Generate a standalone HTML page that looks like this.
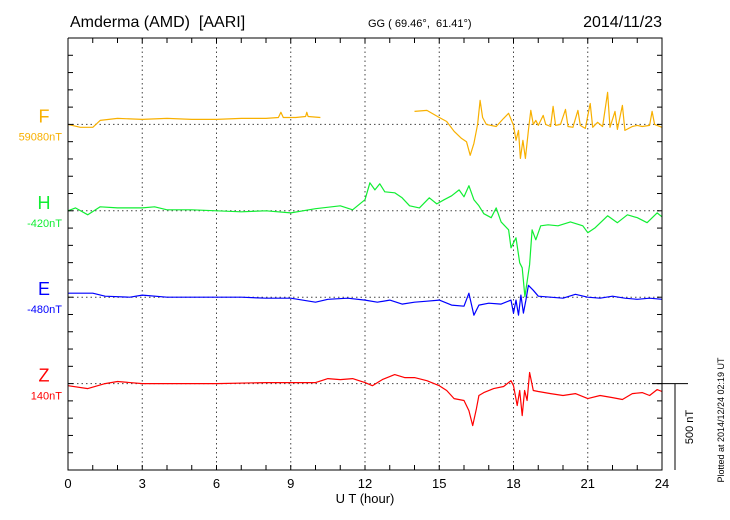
<!DOCTYPE html>
<html><head><meta charset="utf-8"><style>
body{margin:0;background:#fff;}
svg{display:block;font-family:"Liberation Sans",sans-serif;}
svg text{white-space:pre;}
</style></head><body>
<svg id="chart" width="730" height="520" viewBox="0 0 730 520" xmlns="http://www.w3.org/2000/svg" xml:space="preserve">
<text x="70" y="27" font-size="16">Amderma (AMD)  [AARI]</text>
<text x="368" y="27" font-size="11">GG ( 69.46°,  61.41°)</text>
<text x="662" y="27" font-size="16" text-anchor="end">2014/11/23</text>
<g id="grid"></g>
<g id="series"></g>
<g id="axes"></g>
<text x="365" y="503" font-size="13" text-anchor="middle">U T (hour)</text>
<text x="693" y="427" font-size="11" text-anchor="middle" transform="rotate(-90 693 427)">500 nT</text>
<text x="724" y="420" font-size="9" text-anchor="middle" transform="rotate(-90 724 420)">Plotted at 2014/12/24 02:19 UT</text>
</svg>
<script>
const xTicks = [0,3,6,9,12,15,18,21,24];
const fT = [0,0.5,1,1.3,2,3,4,5,6,7,8,8.5,8.6,8.7,9.2,9.6,9.65,9.7,10.2,null,14.0,14.5,15,15.3,15.6,15.9,16.1,16.25,16.4,16.55,16.65,16.75,16.9,17.3,17.6,17.8,18,18.1,18.2,18.28,18.38,18.48,18.6,18.7,18.8,18.9,19,19.2,19.3,19.5,19.6,19.7,19.9,20.1,20.2,20.4,20.6,20.7,20.9,21.1,21.2,21.4,21.6,21.8,21.9,22.1,22.2,22.4,22.5,22.8,23.0,23.2,23.5,23.6,23.7,24];
const fV = [0,-17,-17,23,35,29,35,29,29,35,35,40,70,40,40,46,70,46,40,null,75,81,40,17,-40,-81,-100,-179,-110,0,139,40,0,-12,35,64,-6,-92,-35,-197,-92,-197,-35,81,0,23,-6,52,0,-12,104,-6,0,87,-12,-17,81,-6,-23,121,-17,12,-12,185,-17,75,-29,110,-35,-12,-6,-12,-6,75,0,-17];
const hT = [0,0.3,0.8,1.3,2,3,3.5,4,5,6,7,8,9,10,11,11.5,12,12.2,12.4,12.6,12.8,13.2,13.5,13.8,14.2,14.6,14.9,15.2,15.5,15.8,16.0,16.2,16.4,16.6,16.8,17.1,17.3,17.5,17.8,17.9,18.1,18.25,18.35,18.46,18.65,18.75,18.9,19.1,19.4,19.8,20.3,20.8,21.0,21.3,21.8,22.2,22.6,23.0,23.4,23.8,24];
const hV = [0,17,-23,23,17,17,23,6,6,0,-6,0,-12,12,29,6,64,162,121,156,110,104,75,29,17,75,40,64,87,121,81,145,64,29,-17,-40,17,-64,-110,-214,-156,-301,-330,-497,-312,-110,-168,-87,-81,-87,-64,-87,-127,-98,-29,-69,-23,-40,-69,-12,-35];
const eT = [0,1,1.5,2.5,3,4,5,6,7,8,9,10,10.5,11.3,12,12.5,13,13.5,14,14.5,15,15.5,16,16.2,16.4,16.6,17,17.5,17.9,18.0,18.1,18.2,18.3,18.4,18.5,18.6,18.8,19,19.5,20,20.5,21,21.5,22,22.5,23,23.5,24];
const eV = [23,23,6,0,12,0,0,0,0,-6,-6,-29,-12,-6,-17,-29,-17,-40,-29,-23,-17,-46,-52,23,-104,-46,-35,-40,-17,-92,-17,-104,12,-92,-17,69,40,6,0,-6,17,0,-6,6,-6,-12,-6,-12];
const zT = [0,0.8,1.5,2,3,6,8,10,10.5,11,11.5,12,12.3,12.7,13.2,13.6,14,14.5,15,15.3,15.6,16.0,16.2,16.35,16.5,16.6,16.8,17.2,17.6,17.9,18.0,18.15,18.25,18.35,18.45,18.55,18.65,18.8,19,19.5,20,20.5,21,21.5,22,22.4,22.8,23.2,23.5,23.8,24];
const zV = [-12,-29,0,12,0,0,6,6,29,23,29,6,-12,23,52,35,35,17,-12,-40,-87,-98,-156,-243,-145,-69,-52,-29,-17,17,-12,-127,-40,-185,-40,-98,64,-40,-46,-58,-69,-58,-87,-69,-81,-92,-58,-52,-69,-35,-46];
const seriesNames = ["F","H","E","Z"];
const seriesBase = ["59080nT","-420nT","-480nT","140nT"];

const NS="http://www.w3.org/2000/svg";
const X0=68,X1=662,Y0=38,Y1=470,TK=17.28;
const xs=t=>X0+t*(X1-X0)/24;
const baseY=[Y0+5*TK,Y0+10*TK,Y0+15*TK,Y0+20*TK];
const ys=(v,i)=>baseY[i]-v*TK/100;
function mk(tag,attrs,parent){const e=document.createElementNS(NS,tag);for(const k in attrs)e.setAttribute(k,attrs[k]);parent.appendChild(e);return e;}
const grid=document.getElementById('grid'),axes=document.getElementById('axes'),ser=document.getElementById('series');
xTicks.forEach(t=>{if(t>0&&t<24){const l=mk('line',{x1:xs(t),x2:xs(t),y1:Y0,y2:Y1,stroke:'#444','stroke-dasharray':'1.5,3','stroke-width':1},grid);

}});
baseY.forEach(y=>{const l=mk('line',{x1:X0,x2:X1,y1:y,y2:y,stroke:'#444','stroke-dasharray':'1.5,3','stroke-width':1},grid);

});
const colors=['#f8b000','#11ee33','#0000ff','#ff0000'];
const data=[[fT,fV],[hT,hV],[eT,eV],[zT,zV]];
data.forEach((d,i)=>{let p='',pen=false;for(let k=0;k<d[0].length;k++){if(d[0][k]===null){pen=false;continue;}p+=(pen?'L':'M')+xs(d[0][k]).toFixed(1)+','+ys(d[1][k],i).toFixed(1);pen=true;}
const e=mk('path',{d:p,fill:'none',stroke:colors[i],'stroke-width':1.2,'stroke-linejoin':'round'},ser);


const t1=mk('text',{x:44,y:baseY[i]-2,'font-size':18,fill:colors[i],'text-anchor':'middle'},ser);t1.textContent=seriesNames[i];


const t2=mk('text',{x:62,y:baseY[i]+16,'font-size':11,fill:colors[i],'text-anchor':'end'},ser);t2.textContent=seriesBase[i];

});
const frame=mk('path',{d:`M${X0},${Y0}V${Y1}H${X1}V${Y0}H${X0}`,fill:'none',stroke:'#000','stroke-width':1},axes);


for(let h=0;h<=24;h++){mk('line',{x1:xs(h),x2:xs(h),y1:Y0,y2:Y0+5,stroke:'#000'},axes);mk('line',{x1:xs(h),x2:xs(h),y1:Y1,y2:Y1-5,stroke:'#000'},axes);}
for(let k=1;k<25;k++){const y=Y0+k*TK;mk('line',{x1:X0,x2:X0+5,y1:y,y2:y,stroke:'#000'},axes);mk('line',{x1:X1,x2:X1-5,y1:y,y2:y,stroke:'#000'},axes);}
xTicks.forEach(t=>{const e=mk('text',{x:xs(t),y:488,'font-size':13,'text-anchor':'middle'},axes);e.textContent=t;

});
const sb=mk('path',{d:`M652,${baseY[3]}H688M675,${baseY[3]}V${Y1}`,fill:'none',stroke:'#000'},axes);


</script>
</body></html>
